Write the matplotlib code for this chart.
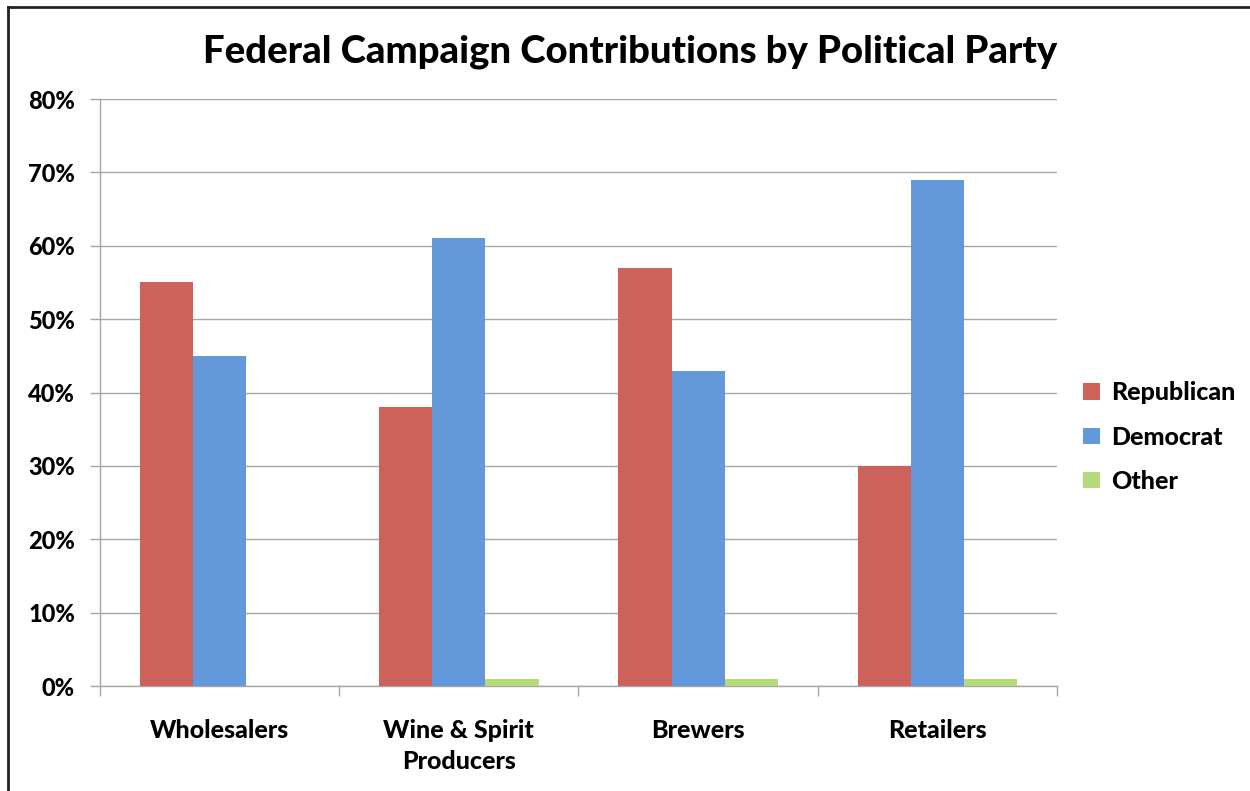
import numpy as np
import matplotlib.pyplot as plt
from matplotlib.lines import Line2D
from matplotlib.ticker import FuncFormatter, FixedLocator

# --- Data ---
categories = ["Wholesalers", "Wine & Spirit\nProducers", "Brewers", "Retailers"]
republican = [55, 38, 57, 30]
democrat = [45, 61, 43, 69]
other = [0, 1, 1, 1]
series_names = ["Republican", "Democrat", "Other"]
colors = ["#CC6259", "#6399DB", "#B4DA79"]

plt.rcParams['font.family'] = ['Lato', 'DejaVu Sans']
plt.rcParams['font.weight'] = 'black'

fig = plt.figure(figsize=(12.5, 7.91), dpi=100)
ax = fig.add_axes([0.08, 0.1327, 0.7656, 0.7421])

x = np.arange(len(categories))
w = 0.222
for i, (vals, name, c) in enumerate(zip([republican, democrat, other], series_names, colors)):
    ax.bar(x + (i - 1) * w, vals, width=w, color=c, label=name, zorder=3)

ax.set_xlim(-0.5, len(categories) - 0.5)
ax.set_ylim(0, 80)
ax.set_yticks(np.arange(0, 81, 10))
ax.yaxis.set_major_formatter(FuncFormatter(lambda v, p: f"{int(v)}%"))
ax.grid(axis='y', color='#A6A6A6', linewidth=1, zorder=0)

# category labels centered, ticks at boundaries
ax.set_xticks(x)
ax.set_xticklabels(categories, fontsize=18, fontweight='black', linespacing=1.4)
ax.tick_params(axis='x', length=0, pad=24)
ax.xaxis.set_minor_locator(FixedLocator(np.arange(-0.5, len(categories), 1)))
ax.tick_params(axis='x', which='minor', length=7, color='#A6A6A6', width=1)
ax.tick_params(axis='y', length=7, color='#A6A6A6', width=1, labelsize=17, pad=11)
for lab in ax.get_yticklabels():
    lab.set_fontweight('black')

for s in ['top', 'right']:
    ax.spines[s].set_visible(False)
for s in ['left', 'bottom']:
    ax.spines[s].set_color('#A6A6A6')
    ax.spines[s].set_linewidth(1)

fig.text(0.504, 0.935, "Federal Campaign Contributions by Political Party",
         ha='center', va='center', fontsize=27.5, fontweight='black')

leg = ax.legend(loc='center left', bbox_to_anchor=(1.004, 0.424), frameon=False,
                fontsize=18, handlelength=0.65, handleheight=0.65,
                handletextpad=0.45, labelspacing=0.85)
for t in leg.get_texts():
    t.set_fontweight('black')

# outer frame (left and top edges visible)
fig.add_artist(Line2D([0.0064, 0.0064], [0, 0.9912], transform=fig.transFigure,
                      color='#222222', linewidth=2))
fig.add_artist(Line2D([0.0064, 1.0], [0.9912, 0.9912], transform=fig.transFigure,
                      color='#222222', linewidth=2))

fig.savefig("out.png", dpi=100)
